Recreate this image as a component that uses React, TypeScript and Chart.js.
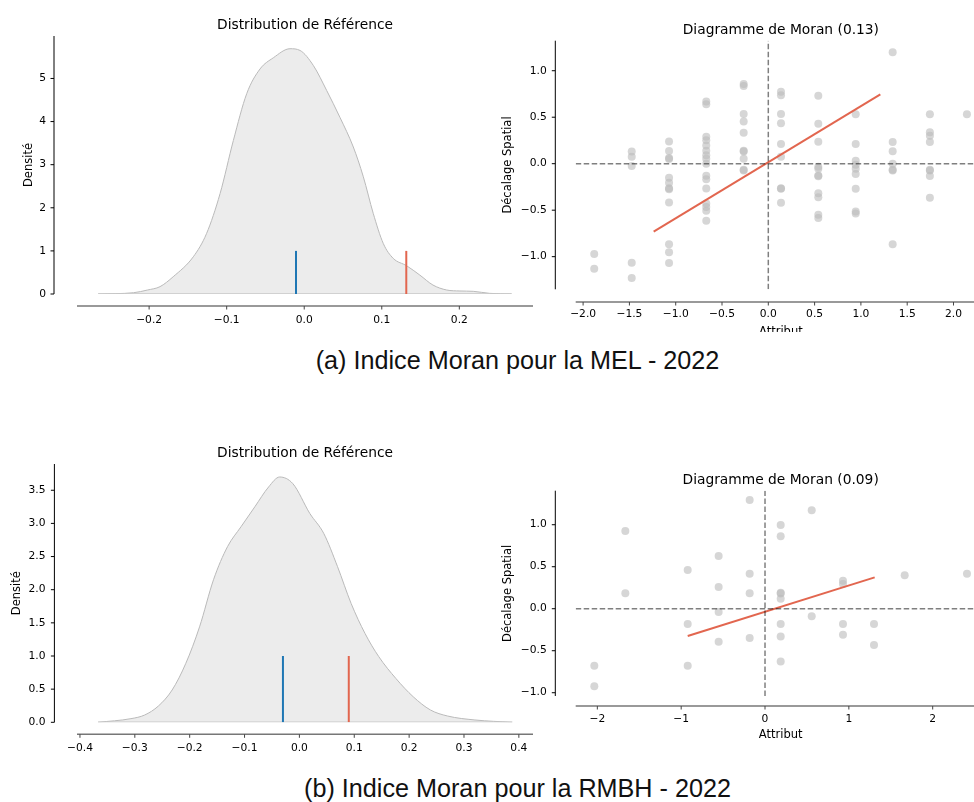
import React, { useEffect, useRef } from 'react';
import { Chart, registerables } from 'chart.js';

Chart.register(...registerables);

// ---------------- DATA ----------------
// (a) MEL 2022 — reference distribution (density of simulated Moran's I)
const melKdeX = [-0.2657, -0.22, -0.202, -0.186, -0.169, -0.143, -0.126, -0.1085, -0.0914, -0.0741, -0.057, -0.0398, -0.0183, -0.0054, 0.0118, 0.029, 0.046, 0.0633, 0.0762, 0.089, 0.102, 0.1148, 0.132, 0.149, 0.166, 0.1836, 0.2008, 0.218, 0.239, 0.2674];
const melKdeY = [0, 0.03, 0.093, 0.17, 0.4, 0.864, 1.4, 2.33, 3.56, 4.65, 5.22, 5.48, 5.69, 5.65, 5.3, 4.72, 4.1, 3.41, 2.72, 1.87, 1.17, 0.826, 0.656, 0.44, 0.208, 0.093, 0.07, 0.062, 0.015, 0];
const melI = 0.1316;
const melEI = -0.0106;

// (a) MEL 2022 — Moran scatter (attribute columns and spatial lag values)
const melAttr = [-1.88, -1.475, -1.072, -0.67, -0.266, 0.137, 0.54, 0.944, 1.343, 1.745, 2.145];
const melLag = [
  [-0.97, -1.13],
  [0.13, 0.075, -0.025, -1.065, -1.23],
  [0.24, 0.137, 0.06, 0.05, -0.15, -0.204, -0.265, -0.275, -0.418, -0.867, -0.953, -1.068],
  [0.67, 0.64, 0.29, 0.253, 0.197, 0.14, 0.09, 0.054, 0.0, -0.13, -0.168, -0.267, -0.428, -0.466, -0.505, -0.613],
  [0.857, 0.835, 0.534, 0.455, 0.334, 0.14, 0.13, 0.054, -0.066, -0.072],
  [0.775, 0.735, 0.535, 0.434, 0.213, 0.075, -0.265, -0.27, -0.421],
  [0.731, 0.43, 0.237, -0.032, -0.054, -0.128, -0.136, -0.319, -0.362, -0.548, -0.584],
  [0.531, 0.212, 0.033, -0.01, -0.053, -0.111, -0.269, -0.513, -0.537],
  [1.2, 0.233, 0.133, 0.0, -0.065, -0.072, -0.867],
  [0.531, 0.337, 0.301, 0.233, -0.065, -0.072, -0.132, -0.365],
  [0.531],
];
const melFitX = [-1.238, 1.21];
const melFitY = [-0.731, 0.746];

// (b) RMBH 2022 — reference distribution
const rmbhKdeX = [-0.367, -0.307, -0.282, -0.257, -0.232, -0.207, -0.182, -0.1566, -0.131, -0.1064, -0.0813, -0.0561, -0.036, -0.012, 0.019, 0.0443, 0.0694, 0.0944, 0.1196, 0.1447, 0.176, 0.2074, 0.2388, 0.27, 0.32, 0.388];
const rmbhKdeY = [0, 0.055, 0.11, 0.246, 0.487, 0.89, 1.44, 2.15, 2.65, 2.95, 3.25, 3.55, 3.7, 3.6, 3.15, 2.85, 2.35, 1.79, 1.34, 0.99, 0.66, 0.386, 0.186, 0.095, 0.035, 0];
const rmbhI = 0.09;
const rmbhEI = -0.03;

// (b) RMBH 2022 — Moran scatter
const rmbhAttr = [-2.036, -1.666, -0.922, -0.553, -0.183, 0.187, 0.557, 0.93, 1.3, 1.666, 2.409];
const rmbhLag = [
  [-0.678, -0.924],
  [0.925, 0.183],
  [0.461, -0.182, -0.678],
  [0.627, 0.258, -0.039, -0.393],
  [1.294, 0.417, 0.183, -0.349],
  [0.996, 0.863, 0.19, 0.18, 0.118, -0.182, -0.331, -0.629],
  [1.171, -0.091],
  [0.334, 0.294, -0.182, -0.309],
  [-0.182, -0.432],
  [0.397],
  [0.417],
];
const rmbhFitX = [-0.922, 1.308];
const rmbhFitY = [-0.325, 0.373];

// Axis limits and tick labels
const melDistX = { min: -0.293, max: 0.295 };
const melDistY = { min: 0, max: 5.985 };
const melDistXTicks = [-0.2, -0.1, 0, 0.1, 0.2];
const melDistYTicks = [0, 1, 2, 3, 4, 5];

const melScatX = { min: -2.08, max: 2.351 };
const melScatY = { min: -1.351, max: 1.323 };
const melScatXTicks = [-2, -1.5, -1, -0.5, 0, 0.5, 1, 1.5, 2];
const melScatYTicks = [-1, -0.5, 0, 0.5, 1];

const rmbhDistX = { min: -0.4054, max: 0.4258 };
const rmbhDistY = { min: 0, max: 3.896 };
const rmbhDistXTicks = [-0.4, -0.3, -0.2, -0.1, 0, 0.1, 0.2, 0.3, 0.4];
const rmbhDistYTicks = [0, 0.5, 1, 1.5, 2, 2.5, 3, 3.5];

const rmbhScatX = { min: -2.258, max: 2.631 };
const rmbhScatY = { min: -1.039, max: 1.405 };
const rmbhScatXTicks = [-2, -1, 0, 1, 2];
const rmbhScatYTicks = [-1, -0.5, 0, 0.5, 1];

const VLINE_TOP = 1;

// ---------------- STYLE ----------------
const FAMILY = '"DejaVu Sans", "Liberation Sans", sans-serif';
const TICK_FONT = { family: FAMILY, size: 10.7, lineHeight: 1 };
const AXIS_FONT = { family: FAMILY, size: 11.5, lineHeight: 1 };
const TITLE_FONT = { family: FAMILY, size: 13.8, lineHeight: 1, weight: 'normal' as const };
const RED = '#e2664f';
const BLUE = '#1f77b4';
const POINT = 'rgba(186,186,186,0.6)';

function fmt(v: number, d: number) {
  const s = Math.abs(v) < 1e-9 ? (0).toFixed(d) : v.toFixed(d);
  return s.replace('-', '\u2212');
}

const spinePlugin = {
  id: 'offsetSpines',
  afterDraw(chart: any, _args: any, opts: any) {
    const { ctx, chartArea } = chart;
    const xs = chart.scales.x;
    const ys = chart.scales.y;
    ctx.save();
    // y spine
    const sx = chartArea.left - opts.yOffset;
    ctx.strokeStyle = '#000';
    ctx.lineWidth = 1;
    ctx.beginPath();
    ctx.moveTo(sx, chartArea.top);
    ctx.lineTo(sx, chartArea.bottom);
    ys.ticks.forEach((t: any) => {
      const p = ys.getPixelForValue(t.value);
      ctx.moveTo(sx - 3.5, p);
      ctx.lineTo(sx, p);
    });
    ctx.stroke();
    // x spine
    const sy = chartArea.bottom + opts.xOffset;
    ctx.strokeStyle = '#777';
    ctx.lineWidth = 1.5;
    ctx.beginPath();
    ctx.moveTo(chartArea.left, sy);
    ctx.lineTo(chartArea.right, sy);
    ctx.stroke();
    ctx.lineWidth = 1;
    ctx.strokeStyle = '#444';
    ctx.beginPath();
    xs.ticks.forEach((t: any) => {
      const p = xs.getPixelForValue(t.value);
      ctx.moveTo(p, sy);
      ctx.lineTo(p, sy + 3.5);
    });
    ctx.stroke();
    ctx.restore();
  },
};

type Spec = {
  left: number; top: number; width: number; height: number;
  yAxisWidth: number; xAxisHeight: number; padRight: number;
  title: string; titlePadTop: number; titlePadBottom: number;
  xTitle: string; xTitlePadBottom: number;
  yTitle: string; yTitlePadTop: number;
  xLim: { min: number; max: number }; yLim: { min: number; max: number };
  xTicks: number[]; yTicks: number[]; xDec: number; yDec: number;
  xLabelPad: number; yLabelPad: number;
  ySpineOffset: number; xSpineOffset: number;
  datasets: any[];
};

function buildConfig(p: Spec): any {
  return {
    type: 'scatter',
    data: { datasets: p.datasets },
    options: {
      responsive: false,
      animation: false,
      events: [],
      layout: { padding: { left: 0, right: p.padRight, top: 0, bottom: 0 } },
      plugins: {
        legend: { display: false },
        tooltip: { enabled: false },
        title: {
          display: true, text: p.title, fullSize: false, color: '#000',
          font: TITLE_FONT, padding: { top: p.titlePadTop, bottom: p.titlePadBottom },
        },
        offsetSpines: { yOffset: p.ySpineOffset, xOffset: p.xSpineOffset },
      },
      scales: {
        x: {
          type: 'linear', position: 'bottom', min: p.xLim.min, max: p.xLim.max,
          grid: { display: false, drawTicks: false },
          border: { display: false },
          afterBuildTicks: (s: any) => { s.ticks = p.xTicks.map((v) => ({ value: v })); },
          afterFit: (s: any) => { s.height = p.xAxisHeight; s.paddingLeft = 0; s.paddingRight = 0; },
          ticks: {
            autoSkip: false, maxRotation: 0, minRotation: 0, padding: p.xLabelPad,
            color: '#000', font: TICK_FONT, callback: (v: number) => fmt(v, p.xDec),
          },
          title: {
            display: true, text: p.xTitle, color: '#000', font: AXIS_FONT,
            padding: { top: 0, bottom: p.xTitlePadBottom },
          },
        },
        y: {
          type: 'linear', position: 'left', min: p.yLim.min, max: p.yLim.max,
          grid: { display: false, drawTicks: false },
          border: { display: false },
          afterBuildTicks: (s: any) => { s.ticks = p.yTicks.map((v) => ({ value: v })); },
          afterFit: (s: any) => { s.width = p.yAxisWidth; s.paddingTop = 0; s.paddingBottom = 0; },
          ticks: {
            autoSkip: false, padding: p.yLabelPad, color: '#000', font: TICK_FONT,
            callback: (v: number) => fmt(v, p.yDec),
          },
          title: {
            display: true, text: p.yTitle, color: '#000', font: AXIS_FONT,
            padding: { top: p.yTitlePadTop, bottom: 0 },
          },
        },
      },
    },
    plugins: [spinePlugin],
  };
}

function distDatasets(kx: number[], ky: number[], I: number, EI: number) {
  const line = (x: number, color: string) => ({
    data: [{ x, y: 0 }, { x, y: VLINE_TOP }],
    showLine: true, borderColor: color, borderWidth: 2, pointRadius: 0,
  });
  return [
    line(I, RED),
    line(EI, BLUE),
    {
      data: [{ x: kx[0], y: 0 }, { x: kx[kx.length - 1], y: 0 }],
      showLine: true, borderColor: '#c8c8c8', borderWidth: 1.5, pointRadius: 0,
    },
    {
      data: kx.map((x, i) => ({ x, y: ky[i] })),
      showLine: true, borderColor: '#bababa', borderWidth: 1, pointRadius: 0,
      backgroundColor: '#ececec', fill: 'origin', cubicInterpolationMode: 'monotone',
    },
  ];
}

function scatterDatasets(
  attr: number[], lag: number[][], fx: number[], fy: number[],
  xl: { min: number; max: number }, yl: { min: number; max: number },
) {
  const pts: { x: number; y: number }[] = [];
  attr.forEach((x, i) => lag[i].forEach((y) => pts.push({ x, y })));
  const dash = (data: any[]) => ({
    data, showLine: true, borderColor: 'rgba(0,0,0,0.5)', borderWidth: 1.5,
    borderDash: [5.5, 2.5], pointRadius: 0,
  });
  return [
    dash([{ x: xl.min, y: 0 }, { x: xl.max, y: 0 }]),
    dash([{ x: 0, y: yl.min }, { x: 0, y: yl.max }]),
    {
      data: fx.map((x, i) => ({ x, y: fy[i] })),
      showLine: true, borderColor: RED, borderWidth: 2, pointRadius: 0,
    },
    {
      data: pts, showLine: false, pointRadius: 4, pointBackgroundColor: POINT,
      pointBorderWidth: 0, borderWidth: 0,
    },
  ];
}

const panelMelDist: Spec = {
  left: 0, top: 0, width: 540, height: 360,
  yAxisWidth: 77, xAxisHeight: 66, padRight: 7,
  title: 'Distribution de Référence', titlePadTop: 18.6, titlePadBottom: 3.6,
  xTitle: 'Indice de Moran: 0.13', xTitlePadBottom: 11,
  yTitle: 'Densité', yTitlePadTop: 22.8,
  xLim: melDistX, yLim: melDistY, xTicks: melDistXTicks, yTicks: melDistYTicks, xDec: 1, yDec: 0,
  xLabelPad: 20.95, yLabelPad: 31, ySpineOffset: 23, xSpineOffset: 12,
  datasets: distDatasets(melKdeX, melKdeY, melI, melEI),
};

const panelMelScat: Spec = {
  left: 490, top: 0, width: 510, height: 360,
  yAxisWidth: 85.7, xAxisHeight: 70.7, padRight: 14,
  title: 'Diagramme de Moran (0.13)', titlePadTop: 23.4, titlePadBottom: 3.5,
  xTitle: 'Attribut', xTitlePadBottom: 22.5,
  yTitle: 'Décalage Spatial', yTitlePadTop: 12.55,
  xLim: melScatX, yLim: melScatY, xTicks: melScatXTicks, yTicks: melScatYTicks, xDec: 1, yDec: 1,
  xLabelPad: 19.85, yLabelPad: 29, ySpineOffset: 20.4, xSpineOffset: 12.7,
  datasets: scatterDatasets(melAttr, melLag, melFitX, melFitY, melScatX, melScatY),
};

const panelRmbhDist: Spec = {
  left: 0, top: 0, width: 540, height: 350,
  yAxisWidth: 77, xAxisHeight: 57.7, padRight: 7,
  title: 'Distribution de Référence', titlePadTop: 17, titlePadBottom: 3.2,
  xTitle: 'Indice de Moran: 0.09', xTitlePadBottom: 6.3,
  yTitle: 'Densité', yTitlePadTop: 11.45,
  xLim: rmbhDistX, yLim: rmbhDistY, xTicks: rmbhDistXTicks, yTicks: rmbhDistYTicks, xDec: 1, yDec: 1,
  xLabelPad: 20.65, yLabelPad: 31.5, ySpineOffset: 22.6, xSpineOffset: 12,
  datasets: distDatasets(rmbhKdeX, rmbhKdeY, rmbhI, rmbhEI),
};

const panelRmbhScat: Spec = {
  left: 490, top: 0, width: 510, height: 350,
  yAxisWidth: 85.7, xAxisHeight: 84, padRight: 14.4,
  title: 'Diagramme de Moran (0.09)', titlePadTop: 43.1, titlePadBottom: 3.8,
  xTitle: 'Attribut', xTitlePadBottom: 39.55,
  yTitle: 'Décalage Spatial', yTitlePadTop: 12.55,
  xLim: rmbhScatX, yLim: rmbhScatY, xTicks: rmbhScatXTicks, yTicks: rmbhScatYTicks, xDec: 0, yDec: 1,
  xLabelPad: 17.85, yLabelPad: 29, ySpineOffset: 20.4, xSpineOffset: 10,
  datasets: scatterDatasets(rmbhAttr, rmbhLag, rmbhFitX, rmbhFitY, rmbhScatX, rmbhScatY),
};

function ChartPanel({ spec }: { spec: Spec }) {
  const ref = useRef<HTMLCanvasElement>(null);
  useEffect(() => {
    const chart = new Chart(ref.current as HTMLCanvasElement, buildConfig(spec));
    return () => chart.destroy();
  }, [spec]);
  return (
    <canvas
      ref={ref}
      width={spec.width}
      height={spec.height}
      style={{ position: 'absolute', left: spec.left, top: spec.top, width: spec.width, height: spec.height }}
    />
  );
}

const captionStyle: React.CSSProperties = {
  position: 'absolute', left: 0, width: 1035, textAlign: 'center',
  fontFamily: '"Liberation Sans", Arial, Helvetica, sans-serif', fontSize: 25.2,
  lineHeight: '25px', color: '#111', whiteSpace: 'nowrap',
};

export default function App() {
  return (
    <div style={{ position: 'absolute', left: 0, top: 0, width: 974, height: 802, overflow: 'hidden', background: '#fff' }}>
      <div style={{ position: 'absolute', left: 0, top: 0, width: 974, height: 332, overflow: 'hidden' }}>
        <ChartPanel spec={panelMelDist} />
        <ChartPanel spec={panelMelScat} />
      </div>
      <div style={{ ...captionStyle, top: 347.5 }}>(a) Indice Moran pour la MEL - 2022</div>
      <div style={{ position: 'absolute', left: 0, top: 430, width: 974, height: 331, overflow: 'hidden' }}>
        <ChartPanel spec={panelRmbhDist} />
        <ChartPanel spec={panelRmbhScat} />
      </div>
      <div style={{ ...captionStyle, top: 775.8 }}>(b) Indice Moran pour la RMBH - 2022</div>
    </div>
  );
}
